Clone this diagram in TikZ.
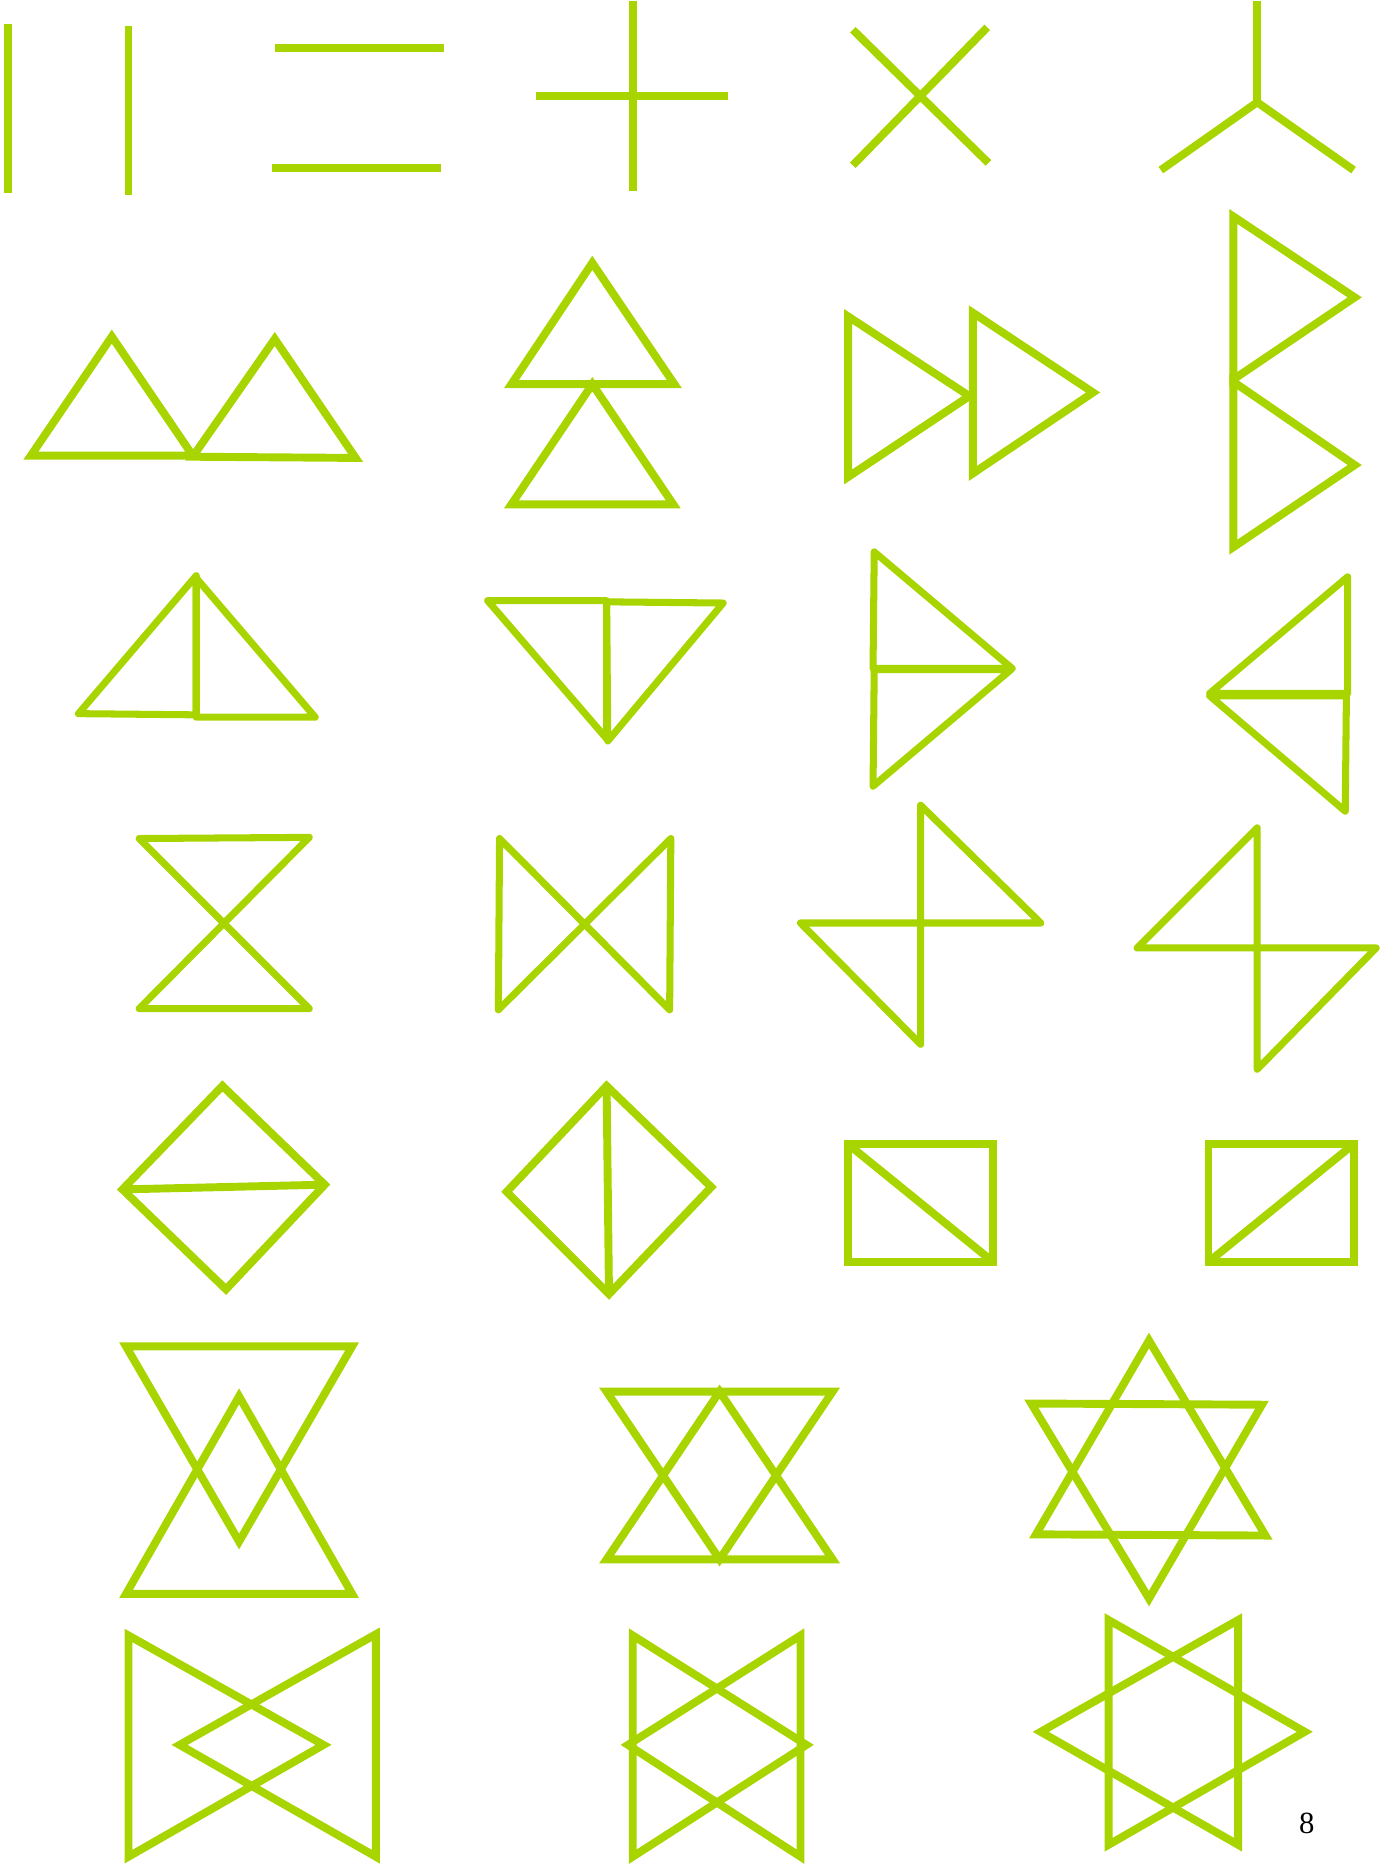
\documentclass[tikz,border=0pt]{standalone}
\usepackage{fontspec}
\usepackage{tikz}
\usetikzlibrary{positioning}
\newfontfamily\pagefont{Liberation Serif}
\definecolor{leafgreen}{RGB}{168,212,0}
\tikzset{
  figline/.style={draw=leafgreen, line width=4.5pt},
  softline/.style={draw=leafgreen, line width=4pt, line join=round, line cap=round}
}
\begin{document}
\begin{tikzpicture}[x=0.02378cm, y=-0.02378cm]
  \useasboundingbox (0,0) rectangle (1163,1568);
  % row 1: single strokes
  \draw[figline] (7,20) -- (7,162);
  \draw[figline] (108,22) -- (108,164);
  \draw[figline] (231,40) -- (373,40);
  \draw[figline] (229,141) -- (371,141);
  \draw[figline] (532,1) -- (532,161);
  \draw[figline] (451,81) -- (612,81);
  \draw[figline] (717,25) -- (831,137);
  \draw[figline] (830,23) -- (717,139);
  \draw[figline] (1057,1) -- (1057,86);
  \draw[figline] (976,143) -- (1057,86) -- (1138,143);
  % row 2: pairs of triangles
  \draw[figline] (94,283) -- (162,383) -- (26,383) -- cycle;
  \draw[figline] (231,285) -- (299,385) -- (162,384) -- cycle;
  \draw[figline] (498,221) -- (567,323) -- (430,323) -- cycle;
  \draw[figline] (498,323) -- (566,424) -- (430,424) -- cycle;
  \draw[figline] (713,266) -- (815,333) -- (713,401) -- cycle;
  \draw[figline] (818,263) -- (919,330) -- (818,398) -- cycle;
  \draw[figline] (1037,182) -- (1139,250) -- (1037,319) -- cycle;
  \draw[figline] (1037,321) -- (1139,391) -- (1037,460) -- cycle;
  % row 3: halved triangles
  \draw[softline] (66,600) -- (165,484) -- (165,601) -- cycle;
  \draw[softline] (165,486) -- (265,603) -- (165,603) -- cycle;
  \draw[softline] (410,505) -- (510,505) -- (510,621) -- cycle;
  \draw[softline] (510,506) -- (608,507) -- (511,623) -- cycle;
  \draw[softline] (735,464) -- (851,562) -- (734,562) -- cycle;
  \draw[softline] (735,563) -- (850,563) -- (734,661) -- cycle;
  \draw[softline] (1017,583) -- (1133,485) -- (1133,583) -- cycle;
  \draw[softline] (1017,585) -- (1132,585) -- (1131,682) -- cycle;
  % row 4: crossed shapes
  \draw[softline] (117,705) -- (260,704) -- (117,848) -- (260,848) -- cycle;
  \draw[softline] (420,705) -- (563,849) -- (564,705) -- (419,849) -- cycle;
  \draw[softline] (774,677) -- (875,776) -- (673,776) -- (774,878) -- cycle;
  \draw[softline] (1057,696) -- (956,797) -- (1157,797) -- (1057,899) -- cycle;
  % row 5: diamonds and squares
  \draw[figline] (187,913) -- (273,996) -- (190,1084) -- (103,1000) -- cycle;
  \draw[figline] (103,1000) -- (273,996);
  \draw[figline] (510,913) -- (598,998) -- (512,1088) -- (426,1002) -- cycle;
  \draw[figline] (510,913) -- (512,1088);
  \draw[figline] (713,962) rectangle (835,1061);
  \draw[figline] (713,962) -- (835,1061);
  \draw[figline] (1016,962) rectangle (1138,1061);
  \draw[figline] (1138,962) -- (1016,1061);
  % row 6: overlapping triangles
  \draw[figline] (106,1132) -- (296,1132) -- (201,1296) -- cycle;
  \draw[figline] (201,1174) -- (296,1340) -- (106,1340) -- cycle;
  \draw[figline] (510,1170) -- (700,1170) -- (605,1311) -- cycle;
  \draw[figline] (605,1170) -- (700,1311) -- (510,1311) -- cycle;
  \draw[figline] (966,1127) -- (1064,1291) -- (871,1290) -- cycle;
  \draw[figline] (867,1180) -- (1061,1181) -- (966,1344) -- cycle;
  % row 7: sideways triangles
  \draw[figline] (108,1375) -- (272,1467) -- (108,1561) -- cycle;
  \draw[figline] (316,1374) -- (316,1561) -- (151,1467) -- cycle;
  \draw[figline] (532,1375) -- (678,1467) -- (532,1561) -- cycle;
  \draw[figline] (673,1375) -- (673,1561) -- (528,1467) -- cycle;
  \draw[figline] (932,1362) -- (1097,1456) -- (932,1551) -- cycle;
  \draw[figline] (1041,1362) -- (1041,1551) -- (875,1456) -- cycle;
  \node[font=\pagefont\fontsize{17.5}{20}\selectfont] (pagenum) at (1098.6,1533.4) {8};
\end{tikzpicture}
\end{document}
